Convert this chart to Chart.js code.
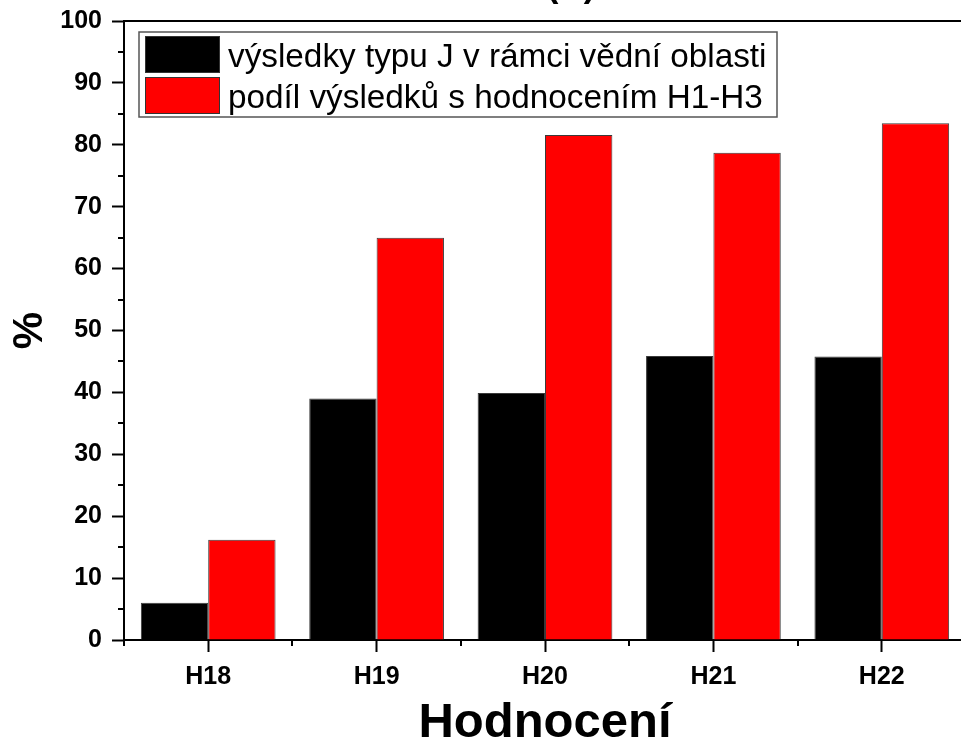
<!DOCTYPE html>
<html><head><meta charset="utf-8">
<script src="https://cdn.jsdelivr.net/npm/chart.js@4/dist/chart.umd.min.js"></script>
<style>
html,body{margin:0;padding:0;background:#fff;overflow:hidden}
#wrap{position:relative;width:961px;height:744px;overflow:hidden;background:#fff}
#c{position:absolute;left:0;top:0}
</style></head><body>
<div id="wrap"><canvas id="c" width="1010" height="750" style="width:1010px;height:750px"></canvas></div>
<script>
const categories = ['H18', 'H19', 'H20', 'H21', 'H22'];
const seriesLabels = ['výsledky typu J v rámci vědní oblasti', 'podíl výsledků s hodnocením H1-H3'];
const typeJValues = [6.0, 39.0, 39.9, 45.9, 45.8];
const h1h3Values = [16.2, 65.0, 81.6, 78.7, 83.5];
const yMin = 0, yMax = 100, yStep = 10;
const xTitle = 'Hodnocení';
const yTitle = '%';
const chartTitle = '(A)';

const FONT = '"Liberation Sans", Arial, sans-serif';
Chart.defaults.font.family = FONT;
Chart.defaults.color = '#000';

const minorTicks = {
  id: 'minorTicks',
  afterDraw(chart) {
    const {ctx, chartArea: a, scales} = chart;
    const y = scales.y, x = scales.x;
    ctx.save();
    ctx.strokeStyle = '#000';
    ctx.lineWidth = 2;
    ctx.beginPath();
    for (let v = yMin + yStep / 2; v < yMax; v += yStep) {
      const py = Math.round(y.getPixelForValue(v));
      ctx.moveTo(a.left - 6, py); ctx.lineTo(a.left, py);
    }
    for (let i = 0; i <= categories.length; i++) {
      const px = Math.round(x.getPixelForValue(i - 0.5));
      ctx.moveTo(px, a.bottom); ctx.lineTo(px, a.bottom + 6);
    }
    ctx.stroke();
    // cropped title
    ctx.fillStyle = '#000';
    ctx.font = 'bold 35px ' + FONT;
    ctx.textAlign = 'center';
    ctx.textBaseline = 'alphabetic';
    ctx.fillText(chartTitle, (a.left + a.right) / 2 + 26, a.top - 24);
    ctx.restore();
  }
};

const boxLegend = {
  id: 'boxLegend',
  afterDraw(chart) {
    const {ctx, chartArea: a} = chart;
    const ds = chart.data.datasets;
    const bx = a.left + 15, by = a.top + 11, bw = 638, bh = 85;
    ctx.save();
    ctx.fillStyle = '#fff';
    ctx.fillRect(bx, by, bw, bh);
    ctx.strokeStyle = '#555';
    ctx.lineWidth = 1.5;
    ctx.strokeRect(bx, by, bw, bh);
    ds.forEach((d, i) => {
      const sy = by + 4 + i * 41;
      ctx.fillStyle = d.backgroundColor;
      ctx.fillRect(bx + 6, sy, 75, 37);
      ctx.strokeStyle = '#333';
      ctx.lineWidth = 1;
      ctx.strokeRect(bx + 6.5, sy + 0.5, 74, 36);
      ctx.fillStyle = '#000';
      ctx.font = '33.3px ' + FONT;
      ctx.textAlign = 'left';
      ctx.textBaseline = 'alphabetic';
      ctx.fillText(d.label, bx + 89, by + 35 + i * 41);
    });
    ctx.restore();
  }
};

new Chart(document.getElementById('c'), {
  type: 'bar',
  data: {
    labels: categories,
    datasets: [
      {label: seriesLabels[0], data: typeJValues, backgroundColor: '#000000', borderColor: '#3a3a3a', borderWidth: 1},
      {label: seriesLabels[1], data: h1h3Values, backgroundColor: '#ff0000', borderColor: '#3a3a3a', borderWidth: 1}
    ]
  },
  options: {
    responsive: false,
    devicePixelRatio: 1,
    animation: false,
    layout: {padding: {left: 0, right: 44, top: 0, bottom: 0}},
    datasets: {bar: {categoryPercentage: 0.8, barPercentage: 1.0}},
    plugins: {legend: {display: false}, tooltip: {enabled: false}, title: {display: false}},
    scales: {
      x: {
        type: 'category',
        offset: true,
        grid: {display: true, offset: false, drawOnChartArea: false, drawTicks: true, tickLength: 12, tickWidth: 2, tickColor: '#000'},
        border: {display: true, width: 2, color: '#000'},
        ticks: {font: {size: 25, weight: 'bold'}, padding: 10, color: '#000'},
        title: {display: true, text: xTitle, font: {size: 49, weight: 'bold', lineHeight: 1}, padding: {top: 0, bottom: 2}, color: '#000'},
        afterFit(s) { s.height = 110; s.paddingLeft = 0; s.paddingRight = 0; }
      },
      x2: {
        type: 'category',
        position: 'top',
        labels: categories,
        offset: true,
        grid: {display: false},
        ticks: {display: false},
        border: {display: true, width: 2, color: '#000'},
        afterFit(s) { s.height = 21; s.paddingLeft = 0; s.paddingRight = 0; }
      },
      y: {
        min: yMin, max: yMax,
        ticks: {stepSize: yStep, font: {size: 25, weight: 'bold'}, padding: 10, color: '#000'},
        grid: {display: true, drawOnChartArea: false, drawTicks: true, tickLength: 12, tickWidth: 2, tickColor: '#000'},
        border: {display: true, width: 2, color: '#000'},
        title: {display: true, text: yTitle, font: {size: 42, weight: 'bold', lineHeight: 1}, padding: {top: 9, bottom: 0}, color: '#000'},
        afterFit(s) { s.width = 124; s.paddingTop = 0; s.paddingBottom = 0; }
      }
    }
  },
  plugins: [minorTicks, boxLegend]
});
</script>
</body></html>
